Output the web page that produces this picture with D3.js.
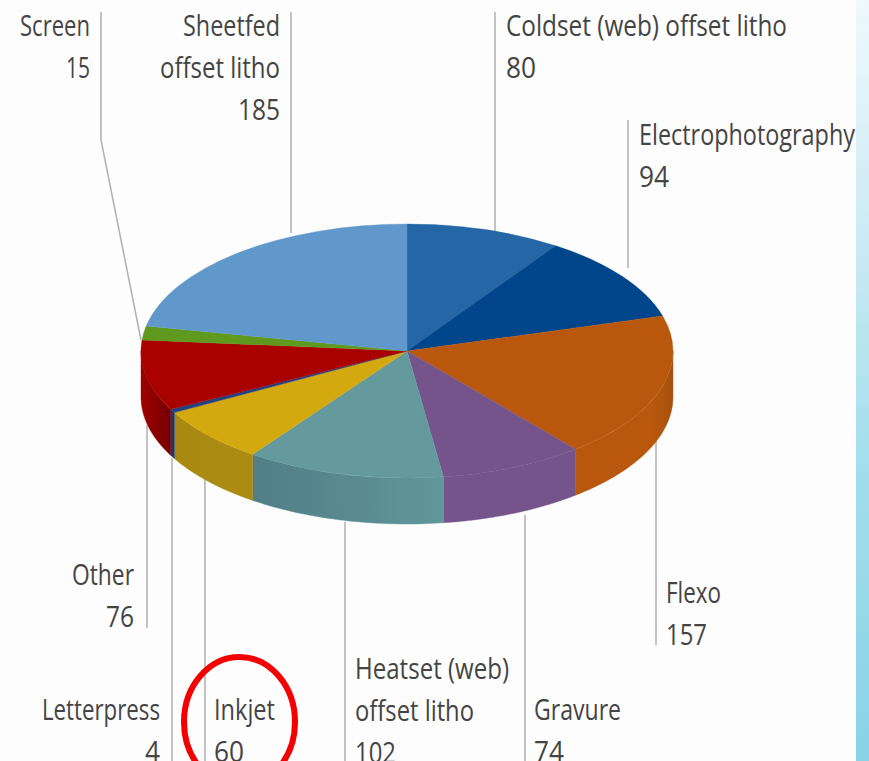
<!DOCTYPE html>
<html><head><meta charset="utf-8">
<script src="https://cdn.jsdelivr.net/npm/d3@7/dist/d3.min.js"></script>
<style>html,body{margin:0;padding:0;background:#fdfdfd;overflow:hidden}svg{display:block}</style>
</head><body><svg id="c" width="869" height="761"></svg>
<script>
// Data (clockwise from 12 o'clock)
const categories = ["Coldset (web) offset litho","Electrophotography","Flexo","Gravure","Heatset (web) offset litho","Inkjet","Letterpress","Other","Screen","Sheetfed offset litho"];
const values = [80,94,157,74,102,60,4,76,15,185];
// Styles: wall colour at the slice's right end, and at its left end
const topColors  = ["#2567a6","#01458a","#b9580c","#75548c","#649a9e","#d4a90f","#27407f","#a90000","#5f9a1e","#6098cc"];
const wallRight  = ["#1f5a90","#013a75","#a5520f","#75548c","#60979a","#ac8b10","#1f3570","#750000","#4f8018","#507fac"];
const wallLeft   = ["#1f5a90","#013a75","#b9580c","#75548c","#517e87","#a98910","#1f3570","#a00000","#4f8018","#507fac"];
const wallBlend  = [1,1,.22,1,1,1,1,1,1,1];
// Label layout, by category order
const labelLines = [["Coldset (web) offset litho"],["Electrophotography"],["Flexo"],["Gravure"],["Heatset (web)","offset litho"],["Inkjet"],["Letterpress"],["Other"],["Screen"],["Sheetfed","offset litho"]];
const lineWidths = [[281,30],[216,30],[55,41],[87,30],[154,119,41],[61,30],[118,15],[62,28],[70,24],[97,120,42]];
const labelX   = [506,639,666,534,355,214,160,134,90,280];
const labelY   = [36,145,603,720,679,720,720,585,36,36];
const labelEnd = [false,false,false,false,false,false,true,true,true,true];
const leaders = [
  [[495,12],[495,233]],
  [[628,120],[628,268]],
  [[656,440],[656,645]],
  [[525,515],[525,761]],
  [[345,522],[345,761]],
  [[205,478],[205,761]],
  [[172,458],[172,761]],
  [[147,425],[147,628]],
  [[101,12],[101,140],[141,340]],
  [[291,12],[291,233]]
];
const W=869,H=761, depth=46, lineGap=42;
const svg=d3.select("#c");
const defs=svg.append("defs");
const strip=defs.append("linearGradient").attr("id","strip").attr("x1",0).attr("x2",0).attr("y1",0).attr("y2",1);
[[0,"#eef9fe"],[.3,"#cdebf4"],[.6,"#a3dfec"],[1,"#88d3e8"]].forEach(s=>strip.append("stop").attr("offset",s[0]).attr("stop-color",s[1]));
svg.append("rect").attr("width",W).attr("height",H).attr("fill","#fdfdfd");
svg.append("rect").attr("x",856).attr("width",W-856).attr("height",H).attr("fill","url(#strip)");

const lineGen=d3.line();
svg.append("g").selectAll("path").data(leaders).join("path")
  .attr("d",lineGen).attr("fill","none").attr("stroke","#b4b4b4").attr("stroke-width",1.6);

const sx=d3.scaleLinear([-1,1],[141,673]);
const sy=d3.scaleLinear([-1,1],[224,478]);
const pie=d3.pie().sort(null).value(d=>d)(values);
const px=a=>sx(Math.sin(a)), py=a=>sy(-Math.cos(a));

// walls
const wallG=svg.append("g");
pie.forEach((p,i)=>{
  const a0=Math.max(p.startAngle,Math.PI/2), a1=Math.min(p.endAngle,3*Math.PI/2);
  if(a1<=a0) return;
  // a0 is the right end of the wall, a1 the left end
  const g=defs.append("linearGradient").attr("id","w"+i).attr("x1",1).attr("x2",0);
  g.append("stop").attr("offset",0).attr("stop-color",wallRight[i]);
  g.append("stop").attr("offset",wallBlend[i]).attr("stop-color",wallLeft[i]);
  const n=40, as=d3.range(n+1).map(k=>a0+(a1-a0)*k/n);
  const pts=as.map(a=>[px(a),py(a)]).concat(as.slice().reverse().map(a=>[px(a),py(a)+depth]));
  wallG.append("path").attr("d",d3.line()(pts)+"Z").attr("fill",`url(#w${i})`).attr("stroke",`url(#w${i})`).attr("stroke-width",.4);
});

// top face
const rx=(sx.range()[1]-sx.range()[0])/2, ry=(sy.range()[1]-sy.range()[0])/2;
const arc=d3.arc().innerRadius(0).outerRadius(rx);
svg.append("g").attr("transform",`translate(${sx(0)},${sy(0)}) scale(1,${ry/rx})`)
  .selectAll("path").data(pie).join("path").attr("d",arc)
  .attr("fill",(d,i)=>topColors[i]).attr("stroke",(d,i)=>topColors[i]).attr("stroke-width",.5);

// labels
const lg=svg.append("g").attr("fill","#444").style("font-family","'Open Sans',sans-serif").style("font-size","29px");
categories.forEach((c,i)=>{
  labelLines[i].concat(String(values[i])).forEach((t,k)=>{
    lg.append("text").attr("x",labelX[i]).attr("y",labelY[i]+k*lineGap)
      .attr("text-anchor",labelEnd[i]?"end":"start")
      .attr("textLength",lineWidths[i][k]).attr("lengthAdjust","spacingAndGlyphs").text(t);
  });
});

// highlight ellipse
svg.append("ellipse").attr("cx",239.5).attr("cy",722).attr("rx",55.5).attr("ry",65)
  .attr("fill","none").attr("stroke","#f40000").attr("stroke-width",6);
</script></body></html>
